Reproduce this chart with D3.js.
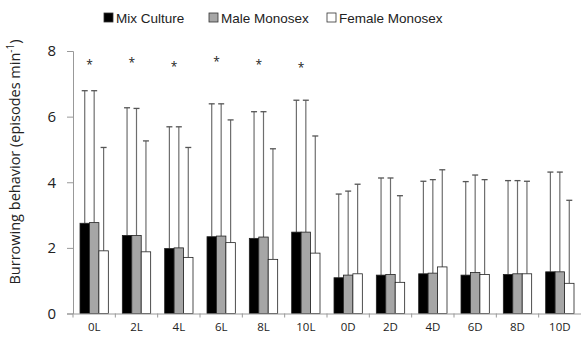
<!DOCTYPE html>
<html>
<head>
<meta charset="utf-8">
<script src="https://cdn.jsdelivr.net/npm/d3@7"></script>
<style>
  html, body { margin: 0; padding: 0; background: #fff; }
  #chart { width: 581px; height: 338px; }
  text { font-family: "Open Sans", "Liberation Sans", sans-serif; fill: #222; }
</style>
</head>
<body>
<div id="chart"></div>
<script>
// 数据
const categories = ['0L', '2L', '4L', '6L', '8L', '10L', '0D', '2D', '4D', '6D', '8D', '10D'];
const seriesNames = ['Mix Culture', 'Male Monosex', 'Female Monosex'];
const mixMean   = [2.75, 2.38, 1.98, 2.34, 2.29, 2.48, 1.09, 1.17, 1.21, 1.17, 1.19, 1.27];
const maleMean  = [2.77, 2.38, 2.00, 2.36, 2.33, 2.48, 1.17, 1.19, 1.23, 1.25, 1.21, 1.27];
const femMean   = [1.91, 1.88, 1.71, 2.16, 1.65, 1.84, 1.21, 0.95, 1.42, 1.19, 1.21, 0.92];
const mixTop    = [6.79, 6.27, 5.69, 6.39, 6.15, 6.50, 3.64, 4.13, 4.03, 4.02, 4.05, 4.31];
const maleTop   = [6.79, 6.25, 5.69, 6.39, 6.15, 6.50, 3.73, 4.13, 4.08, 4.22, 4.05, 4.31];
const femTop    = [5.06, 5.26, 5.06, 5.90, 5.02, 5.41, 3.94, 3.59, 4.38, 4.08, 4.03, 3.45];
const starLevel = [7.6, 7.65, 7.55, 7.7, 7.6, 7.5, null, null, null, null, null, null];
const yTicks = [0, 2, 4, 6, 8];

const fills = ['#000000', '#a6a6a6', '#ffffff'];
const means = [mixMean, maleMean, femMean];
const tops = [mixTop, maleTop, femTop];

const width = 581, height = 338;
const margin = { top: 51, right: 0, bottom: 24.5, left: 73 };
const innerWidth = width - margin.left - margin.right;
const innerHeight = height - margin.top - margin.bottom;

const svg = d3.select('#chart').append('svg')
  .attr('width', width)
  .attr('height', height);

const g = svg.append('g')
  .attr('transform', `translate(${margin.left}, ${margin.top})`);

// 比例尺
const x = d3.scaleBand()
  .domain(categories)
  .range([0, innerWidth])
  .paddingInner(0)
  .paddingOuter(0);

const xs = d3.scaleBand()
  .domain(seriesNames)
  .range([7, x.bandwidth() - 7]);

const y = d3.scaleLinear()
  .domain([0, 8])
  .range([innerHeight, 0]);

// 柱状 + 误差线
const groups = g.selectAll('.grp')
  .data(categories)
  .enter()
  .append('g')
  .attr('class', 'grp')
  .attr('transform', d => `translate(${x(d)}, 0)`);

seriesNames.forEach((s, si) => {
  // 误差线
  groups.append('line')
    .attr('x1', (d, i) => xs(s) + xs.bandwidth() / 2)
    .attr('x2', (d, i) => xs(s) + xs.bandwidth() / 2)
    .attr('y1', (d, i) => y(means[si][i]))
    .attr('y2', (d, i) => y(tops[si][i]))
    .attr('stroke', '#6e6e6e')
    .attr('stroke-width', 1.2);
  groups.append('line')
    .attr('x1', (d, i) => xs(s) + xs.bandwidth() / 2 - 3)
    .attr('x2', (d, i) => xs(s) + xs.bandwidth() / 2 + 3)
    .attr('y1', (d, i) => y(tops[si][i]))
    .attr('y2', (d, i) => y(tops[si][i]))
    .attr('stroke', '#555')
    .attr('stroke-width', 1.3);
});

seriesNames.forEach((s, si) => {
  groups.append('rect')
    .attr('x', xs(s))
    .attr('width', xs.bandwidth())
    .attr('y', (d, i) => y(means[si][i]))
    .attr('height', (d, i) => innerHeight - y(means[si][i]))
    .attr('fill', fills[si])
    .attr('stroke', '#222')
    .attr('stroke-width', 0.8);
});

// 星号
groups.filter((d, i) => starLevel[i] != null)
  .append('text')
  .attr('x', xs(seriesNames[1]))
  .attr('y', (d, i) => y(starLevel[categories.indexOf(d)]) + 5)
  .attr('text-anchor', 'middle')
  .style('font-size', '12px')
  .text('*');

// X轴
const xAxis = g.append('g')
  .attr('transform', `translate(0, ${innerHeight})`)
  .call(d3.axisBottom(x).tickSize(0).tickPadding(9));
xAxis.select('.domain').attr('stroke', '#999');
xAxis.selectAll('text')
  .style('font-size', '11.5px')
  .style('font-family', '"Liberation Sans Narrow", "Open Sans", sans-serif')
  .attr('fill', '#222');
// 类别分隔刻度
g.append('g')
  .selectAll('line')
  .data(categories)
  .enter()
  .append('line')
  .attr('x1', d => x(d))
  .attr('x2', d => x(d))
  .attr('y1', innerHeight)
  .attr('y2', innerHeight + 4)
  .attr('stroke', '#999');

// Y轴
const yAxis = g.append('g')
  .call(d3.axisLeft(y).tickValues(yTicks).tickSize(6).tickPadding(11));
yAxis.select('.domain').attr('stroke', '#999');
yAxis.selectAll('.tick line').attr('stroke', '#999');
yAxis.selectAll('text')
  .style('font-size', '15px')
  .attr('fill', '#222');

// Y轴标题
const yTitle = svg.append('text')
  .attr('transform', `translate(20, 162) rotate(-90)`)
  .attr('text-anchor', 'middle')
  .style('font-size', '14.5px');
yTitle.append('tspan').text('Burrowing behavior (episodes min');
yTitle.append('tspan').attr('dy', -6).style('font-size', '10px').text('-1');
yTitle.append('tspan').attr('dy', 6).text(')');

// 图例
const legendX = [104, 209, 327];
const legend = svg.append('g');
seriesNames.forEach((s, si) => {
  legend.append('rect')
    .attr('x', legendX[si])
    .attr('y', 13)
    .attr('width', 9)
    .attr('height', 9)
    .attr('fill', fills[si])
    .attr('stroke', '#333')
    .attr('stroke-width', 0.8);
  legend.append('text')
    .attr('x', legendX[si] + 12)
    .attr('y', 22.5)
    .style('font-size', '13.5px')
    .style('font-family', '"Liberation Sans", Arial, sans-serif')
    .text(s);
});
</script>
</body>
</html>
